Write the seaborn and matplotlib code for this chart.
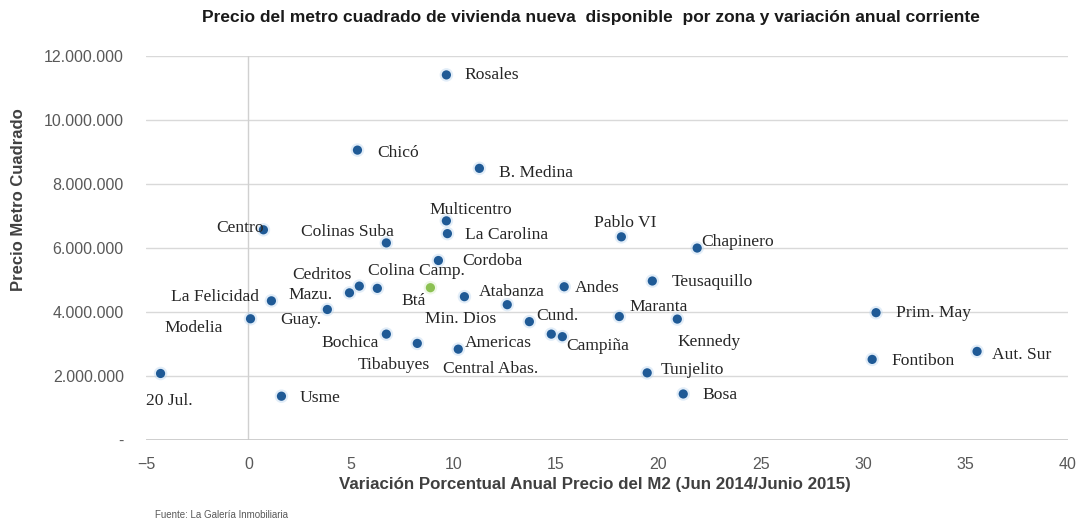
import matplotlib
matplotlib.use("Agg")
import matplotlib.pyplot as plt
import matplotlib.ticker as mticker
import seaborn as sns
import pandas as pd

# Zonas de Bogotá: variación anual (%) y precio por metro cuadrado (COP)
zonas = [
    "Rosales", "Chicó", "B. Medina", "Multicentro", "La Carolina", "Pablo VI",
    "Chapinero", "Centro", "Colinas Suba", "Cordoba", "Cedritos", "Colina Camp.",
    "Mazu.", "La Felicidad", "Btá", "Atabanza", "Andes", "Teusaquillo",
    "Guay.", "Modelia", "Maranta", "Min. Dios", "Cund.", "Kennedy",
    "Prim. May", "Bochica", "Campiña", "Tibabuyes", "Americas", "Central Abas.",
    "Fontibon", "Aut. Sur", "20 Jul.", "Tunjelito", "Usme", "Bosa",
]
variacion = [
    9.66, 5.32, 11.27, 9.66, 9.71, 18.2,
    21.9, 0.73, 6.73, 9.27, 5.41, 6.29,
    4.93, 1.12, 8.88, 10.54, 15.41, 19.71,
    3.85, 0.1, 18.1, 12.63, 13.71, 20.93,
    30.63, 6.73, 15.32, 8.24, 10.24, 14.78,
    30.44, 35.56, -4.29, 19.46, 1.61, 21.22,
]
precio_m2 = [
    11410000, 9060000, 8490000, 6850000, 6450000, 6350000,
    6000000, 6570000, 6160000, 5610000, 4810000, 4740000,
    4600000, 4350000, 4760000, 4480000, 4790000, 4970000,
    4080000, 3790000, 3860000, 4230000, 3700000, 3780000,
    3980000, 3310000, 3230000, 3020000, 2840000, 3310000,
    2520000, 2770000, 2080000, 2100000, 1370000, 1440000,
]
grupo = ["Bogotá" if z == "Btá" else "Zona" for z in zonas]

x_ticks = [-5, 0, 5, 10, 15, 20, 25, 30, 35, 40]
y_ticks = [0, 2000000, 4000000, 6000000, 8000000, 10000000, 12000000]

df = pd.DataFrame({"zona": zonas, "variacion": variacion,
                   "precio": precio_m2, "grupo": grupo})

# Posición de cada etiqueta respecto a su punto (píxeles, alineación)
etiquetas = {
    "Rosales": (18, 0, "left"), "Chicó": (20, -3, "left"),
    "B. Medina": (20, -5, "left"), "Multicentro": (24, 11, "center"),
    "La Carolina": (18, -1, "left"), "Pablo VI": (4, 14, "center"),
    "Chapinero": (4, 6, "left"), "Centro": (0, 2, "right"),
    "Colinas Suba": (8, 11, "right"), "Cordoba": (24, 0, "left"),
    "Cedritos": (-8, 11, "right"), "Colina Camp.": (-9, 17, "left"),
    "Mazu.": (-17, -2, "right"), "La Felicidad": (-12, 4, "right"),
    "Btá": (-17, -13, "center"), "Atabanza": (14, 5, "left"),
    "Andes": (11, -1, "left"), "Teusaquillo": (19, -1, "left"),
    "Guay.": (-6, -11, "right"), "Modelia": (-28, -9, "right"),
    "Maranta": (10, 10, "left"), "Min. Dios": (-47, -14, "center"),
    "Cund.": (7, 6, "left"), "Kennedy": (32, -23, "center"),
    "Prim. May": (20, 0, "left"), "Bochica": (-8, -9, "right"),
    "Campiña": (4, -9, "left"), "Tibabuyes": (-23, -22, "center"),
    "Americas": (7, 6, "left"), "Central Abas.": (-61, -35, "center"),
    "Fontibon": (19, -2, "left"), "Aut. Sur": (15, -4, "left"),
    "20 Jul.": (9, -28, "center"), "Tunjelito": (14, 3, "left"),
    "Usme": (18, -2, "left"), "Bosa": (19, -1, "left"),
}

sns.set_theme(style="white")
plt.rcParams["font.family"] = ["Liberation Sans", "DejaVu Sans"]

fig = plt.figure(figsize=(10.76, 5.27), dpi=100)
ax = fig.add_axes([0.1357, 0.165, 0.8569, 0.7287])

colores = {"Zona": "#1f5a96", "Bogotá": "#8cc152"}
halo = {"Zona": "#b7d4ef", "Bogotá": "#d6ecc2"}

# halo suave alrededor de los puntos
sns.scatterplot(data=df, x="variacion", y="precio", hue="grupo", palette=halo,
                s=95, alpha=0.4, linewidth=0, legend=False, ax=ax, zorder=2)
sns.scatterplot(data=df, x="variacion", y="precio", hue="grupo", palette=colores,
                s=44, linewidth=0, legend=False, ax=ax, zorder=3)

for z, xv, yv in zip(zonas, variacion, precio_m2):
    dx, dy, ha = etiquetas[z]
    ax.annotate(z, (xv, yv), xytext=(dx, dy), textcoords="offset pixels",
                ha=ha, va="center", fontsize=12.6, family="Liberation Serif",
                color="#262626", zorder=4)

ax.set_xlim(-5, 40)
ax.set_ylim(0, 12000000)
ax.set_xticks(x_ticks)
ax.set_yticks(y_ticks)
ax.yaxis.set_major_formatter(mticker.FuncFormatter(
    lambda v, p: "-" if v == 0 else f"{int(v):,}".replace(",", ".")))

for s in ax.spines.values():
    s.set_visible(False)
ax.grid(axis="y", color="#d9d9d9", linewidth=1.0)
ax.grid(axis="x", visible=False)
ax.axvline(0, color="#d0d0d0", linewidth=1.0, zorder=1)
ax.axhline(0, color="#c8c8c8", linewidth=1.2, zorder=1)

ax.tick_params(axis="both", length=0, labelsize=11.5, labelcolor="#595959")
ax.tick_params(axis="y", pad=16)
ax.tick_params(axis="x", pad=12)

ax.set_xlabel("Variación Porcentual Anual Precio del M2 (Jun 2014/Junio 2015)",
              fontsize=12.2, fontweight="bold", color="#404040")
ax.xaxis.set_label_coords(0.487, -0.095)
ax.set_ylabel("Precio Metro Cuadrado", fontsize=12, fontweight="bold",
              color="#404040")
ax.yaxis.set_label_coords(-0.13, 0.625)

fig.text(0.549, 0.966,
         "Precio del metro cuadrado de vivienda nueva  disponible  por zona y variación anual corriente",
         ha="center", va="center", fontsize=12.5, fontweight="bold", color="#1a1a1a")
fig.text(0.144, 0.022, "Fuente: La Galería Inmobiliaria", ha="left", va="center",
         fontsize=7, color="#595959")

fig.savefig("out.png", dpi=100)
